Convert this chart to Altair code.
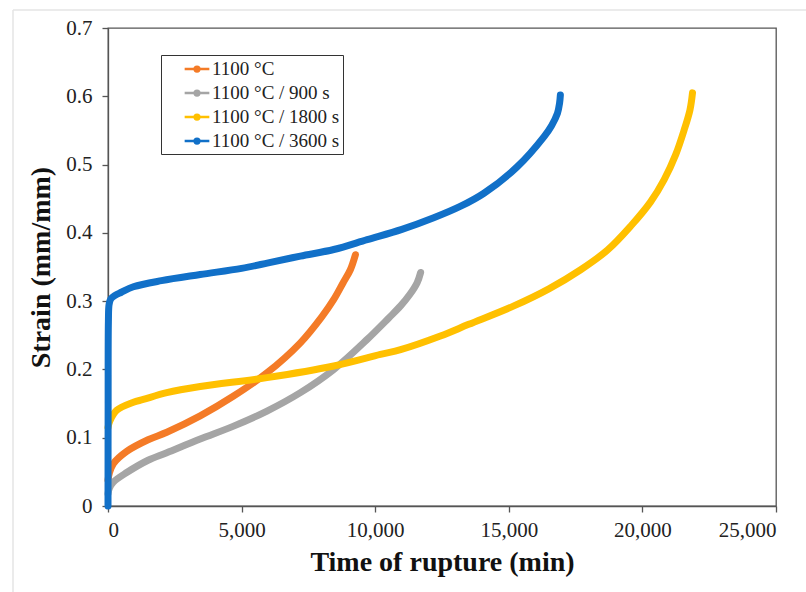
import altair as alt
import pandas as pd

series_names = ["1100 °C", "1100 °C / 900 s", "1100 °C / 1800 s", "1100 °C / 3600 s"]
series_colors = ["#F47B27", "#A5A5A5", "#FFC000", "#1170C8"]

t_1100 = [0, 50, 200, 700, 1500, 2200, 3450, 4700, 5950, 7200, 8000, 8450, 8800, 9070, 9260]
e_1100 = [0.038, 0.048, 0.062, 0.080, 0.097, 0.108, 0.132, 0.161, 0.195, 0.239, 0.277, 0.3025, 0.327, 0.346, 0.368]

t_900 = [0, 50, 200, 700, 1500, 2200, 3450, 4700, 5950, 7200, 8450, 9700, 10500, 10950, 11300, 11570, 11700]
e_900 = [0.018, 0.026, 0.035, 0.049, 0.067, 0.078, 0.098, 0.117, 0.139, 0.166, 0.200, 0.244, 0.275, 0.293, 0.310, 0.327, 0.342]

t_1800 = [0, 75, 320, 950, 1320, 2200, 3450, 5950, 8450, 10195, 10950, 12440, 13500, 15190, 16500, 17690,
          18700, 19565, 20300, 20815, 21250, 21565, 21780, 21875]
e_1800 = [0.115, 0.125, 0.140, 0.152, 0.156, 0.166, 0.175, 0.188, 0.205, 0.222, 0.229, 0.249, 0.266, 0.293, 0.318, 0.346,
          0.375, 0.410, 0.445, 0.478, 0.515, 0.551, 0.580, 0.605]

t_3600 = [0, 5, 15, 40, 100, 250, 500, 950, 2000, 3450, 5000, 6000, 7200, 8450, 9700, 11000, 12190,
          13200, 14070, 15320, 16320, 16600, 16820, 16900, 16930]
e_3600 = [0.0, 0.15, 0.27, 0.295, 0.303, 0.308, 0.313, 0.321, 0.330, 0.339, 0.348, 0.356, 0.366, 0.3756, 0.390, 0.405,
          0.422, 0.439, 0.458, 0.497, 0.541, 0.557, 0.575, 0.590, 0.602]

x_ticks = [0, 5000, 10000, 15000, 20000, 25000]
y_ticks = [0, 0.1, 0.2, 0.3, 0.4, 0.5, 0.6, 0.7]

rows = []
for name, ts, es in zip(series_names, [t_1100, t_900, t_1800, t_3600], [e_1100, e_900, e_1800, e_3600]):
    for i, (t, e) in enumerate(zip(ts, es)):
        rows.append({"series": name, "t": t, "e": e, "order": i})
df = pd.DataFrame(rows)

FONT = "Liberation Serif"

legend_path = "M-1.3,0L1.3,0M-0.25,0A0.25,0.25 0 1,1 0.25,0A0.25,0.25 0 1,1 -0.25,0Z"

axis_common = dict(
    grid=False, domainColor="#555555", domainWidth=1.3, tickColor="#555555", tickWidth=1.3,
    tickSize=6, labelFont=FONT, labelFontSize=21, labelColor="#222222",
    titleFont=FONT, titleFontSize=28, titleFontWeight="bold", titleColor="#111111",
)

lines = alt.Chart(df).mark_line(strokeWidth=7, strokeCap="round", strokeJoin="round",
                                interpolate="catmull-rom").encode(
    x=alt.X("t:Q", scale=alt.Scale(domain=[0, 25000], nice=False),
            axis=alt.Axis(values=x_ticks, title="Time of rupture (min)",
                          labelExpr="format(datum.value, ',.0f')",
                          labelPadding=7, titlePadding=8, **axis_common)),
    y=alt.Y("e:Q", scale=alt.Scale(domain=[0, 0.7], nice=False),
            axis=alt.Axis(values=y_ticks, title="Strain (mm/mm)",
                          labelExpr="datum.value == 0 ? '0' : format(datum.value, '.1f')",
                          labelPadding=10, titlePadding=10, **axis_common)),
    color=alt.Color("series:N", scale=alt.Scale(domain=series_names, range=series_colors),
                    legend=alt.Legend(title=None, orient="none", legendX=53, legendY=27,
                                      symbolType=legend_path, symbolSize=361, symbolStrokeWidth=2.5,
                                      symbolOffset=22, labelFont=FONT, labelFontSize=19,
                                      labelColor="#222222", labelOffset=4, rowPadding=3,
                                      padding=3, strokeColor="#333333", labelLimit=300,
                                      labelExpr="datum.label + '\u00a0\u00a0\u00a0\u00a0'")),
    detail="series:N",
    order="order:Q",
)

frame_df = pd.DataFrame({"a": [0]})
frame_left = alt.Chart(frame_df).mark_rule(color="#e4e4e4", strokeWidth=1.5).encode(
    x=alt.value(-95), y=alt.value(-18), y2=alt.value(564))
frame_top = alt.Chart(frame_df).mark_rule(color="#e4e4e4", strokeWidth=1.5).encode(
    x=alt.value(-95), x2=alt.value(698), y=alt.value(-18))

chart = alt.layer(frame_left, frame_top, lines).properties(
    width=668, height=478,
    autosize=alt.AutoSizeParams(type="none"),
    padding={"left": 108, "top": 28, "right": 30, "bottom": 86},
    background="white",
).configure_view(
    stroke="#555555", strokeWidth=1.3
)

chart.save("out.html", embed_options={"renderer": "svg", "actions": False})
